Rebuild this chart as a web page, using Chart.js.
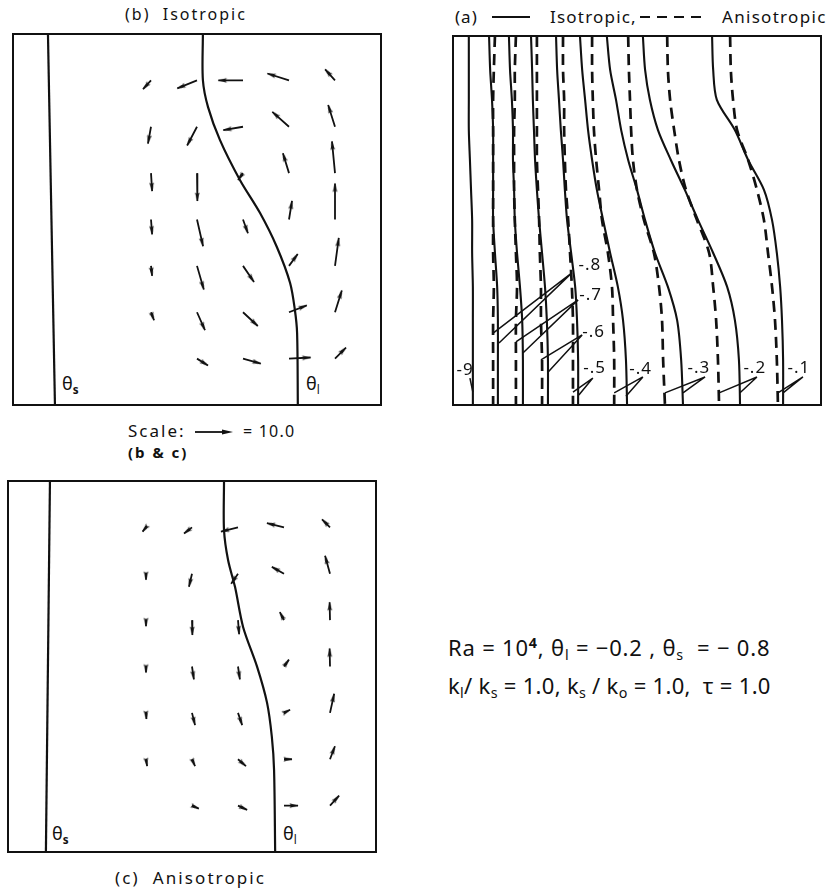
<!DOCTYPE html>
<html>
<head>
<meta charset="utf-8">
<script src="https://cdn.jsdelivr.net/npm/chart.js@4.4.1/dist/chart.umd.min.js"></script>
<style>
  body { margin: 0; background: #fff; width: 829px; height: 890px; position: relative; overflow: hidden;
         font-family: "Noto Sans", sans-serif; color: #111; }
  canvas { position: absolute; }
  .t { position: absolute; white-space: nowrap; line-height: 1; }
  sub { font-size: 0.65em; vertical-align: -0.3em; }
  sup { font-size: 0.65em; vertical-align: 0.55em; font-weight: 700; }
</style>
</head>
<body>
<div class="t" style="left:125px;top:6px;font-size:16px;letter-spacing:2px">(b)&nbsp; Isotropic</div>

<div class="t" style="left:455px;top:8px;font-size:17px;letter-spacing:1px">(a)</div>
<svg style="position:absolute;left:492px;top:10px" width="40" height="14"><line x1="0" y1="7" x2="38" y2="7" stroke="#111" stroke-width="1.8"/></svg>
<div class="t" style="left:550px;top:8px;font-size:17px;letter-spacing:1.2px">Isotropic,</div>
<svg style="position:absolute;left:640px;top:10px" width="70" height="14"><line x1="0" y1="7" x2="68" y2="7" stroke="#111" stroke-width="1.8" stroke-dasharray="10,7"/></svg>
<div class="t" style="left:722px;top:8px;font-size:17px;letter-spacing:1.3px">Anisotropic</div>

<div class="t" style="left:128px;top:422px;font-size:17px;letter-spacing:2px">Scale:</div>
<svg style="position:absolute;left:195px;top:425px" width="42" height="14"><line x1="0" y1="7" x2="32" y2="7" stroke="#111" stroke-width="1.8"/><polygon points="38,7 27,4.5 27,9.5" fill="#111"/></svg>
<div class="t" style="left:243px;top:423px;font-size:16px;letter-spacing:1.2px">= 10.0</div>
<div class="t" style="left:128px;top:445px;font-size:15px;font-weight:700;letter-spacing:2px;word-spacing:0px">(b &amp; c)</div>

<div class="t" style="left:115px;top:869px;font-size:17px;letter-spacing:2.1px">(c)&nbsp; Anisotropic</div>

<div class="t" style="left:448px;top:636px;font-size:22px;letter-spacing:0.8px">Ra = 10<sup>4</sup>, θ<sub>l</sub> = −0.2 , θ<sub>s</sub> &nbsp;= − 0.8</div>
<div class="t" style="left:448px;top:674px;font-size:22px;letter-spacing:0.3px">k<sub>l</sub>/ k<sub>s</sub> = 1.0, k<sub>s</sub> / k<sub>o</sub> = 1.0, &nbsp;τ = 1.0</div>

<div class="t" style="left:62px;top:374px;font-size:18px">θ<sub style="font-weight:700">s</sub></div>
<div class="t" style="left:306px;top:374px;font-size:18px">θ<sub>l</sub></div>
<div class="t" style="left:52px;top:824px;font-size:18px">θ<sub style="font-weight:700">s</sub></div>
<div class="t" style="left:283px;top:824px;font-size:18px">θ<sub>l</sub></div>

<canvas id="chartB" width="370" height="373" style="left:12px;top:33px"></canvas>
<canvas id="chartA" width="370" height="371" style="left:452px;top:35px"></canvas>
<canvas id="chartC" width="370" height="373" style="left:7px;top:480px"></canvas>

<script>
// ---- velocity grid (fractions of the box); arrows start at these points ----
const GRID_X = [0.375, 0.5, 0.625, 0.75, 0.875];
const GRID_Y = [0.875, 0.75, 0.625, 0.5, 0.375, 0.25, 0.125];

// (b) isotropic velocity components, rows top -> bottom, null = no arrow
const ISO_U = [
  [-2.1, -5.2, -6.5, -5.7, -2.6],
  [-0.8, -2.6, -5.2, -4.4, -1.8],
  [0.3, 0.1, -1.3, -1.6, -0.8],
  [0.3, 1.6, 1.3, 0.8, 0.0],
  [0.3, 1.8, 2.9, 2.3, 1.0],
  [0.8, 2.1, 3.9, 4.7, 1.8],
  [null, 2.9, 4.7, 5.7, 2.9]
];
const ISO_V = [
  [-2.3, -2.1, 0.0, 1.8, 2.9],
  [-4.4, -4.9, -0.9, 3.9, 5.7],
  [-4.7, -7.3, -1.8, 5.2, 8.3],
  [-3.9, -7.0, -3.6, 4.9, 9.4],
  [-2.6, -6.2, -4.2, 3.1, 7.3],
  [-2.1, -4.7, -3.6, 1.8, 5.7],
  [null, -1.8, -1.3, 0.3, 2.9]
];

// (c) anisotropic velocity components
const ANI_U = [
  [-0.9, -2.1, -4.5, -4.5, -2.1],
  [0.0, -0.8, -1.8, -3.2, -1.3],
  [0.0, 0.1, 0.3, -1.1, -0.1],
  [0.0, 0.5, 0.5, 1.3, -0.1],
  [0.1, 0.8, 1.1, 1.6, 1.1],
  [0.3, 0.8, 2.1, 2.1, 1.3],
  [null, 1.8, 2.4, 3.7, 2.4]
];
const ANI_V = [
  [-1.1, -1.6, -1.1, 1.1, 2.1],
  [-1.6, -3.4, -2.6, 1.8, 4.7],
  [-1.6, -3.9, -3.7, 2.1, 4.7],
  [-1.6, -3.4, -3.4, 1.8, 4.7],
  [-1.6, -3.2, -3.2, 0.8, 5.0],
  [-1.8, -1.8, -1.8, 0.0, 3.4],
  [null, -0.8, -1.1, 0.0, 2.6]
];

// interfaces: theta_l (melt front) and theta_s
const ISO_THL_X = [0.516, 0.516, 0.530, 0.5625, 0.617, 0.671, 0.717, 0.753, 0.766, 0.772, 0.774];
const ISO_THL_Y = [1.0, 0.876, 0.803, 0.714, 0.606, 0.518, 0.426, 0.329, 0.256, 0.194, 0.0];
const ANI_THL_X = [0.587, 0.587, 0.598, 0.617, 0.639, 0.677, 0.704, 0.717, 0.723, 0.726];
const ANI_THL_Y = [1.0, 0.868, 0.787, 0.714, 0.606, 0.499, 0.402, 0.310, 0.221, 0.0];
const ISO_THS_X = [0.095, 0.114];
const ANI_THS_X = [0.114, 0.103];
const THS_Y = [1.0, 0.0];

// (a) isotherms, x position at each height
const THETA_LEVELS = [-0.9, -0.8, -0.7, -0.6, -0.5, -0.4, -0.3, -0.2, -0.1];
const THETA_Y = [1.0, 0.908, 0.827, 0.745, 0.664, 0.583, 0.501, 0.412, 0.320, 0.230, 0.122, 0.0];
const THETA_ISO_X = [
  [.043, .043, .043, .043, .046, .049, .052, .052, .054, .054, .054, .054],
  [.098, .101, .106, .109, .109, .109, .109, .114, .120, .122, .122, .122],
  [.152, .155, .160, .163, .163, .166, .168, .174, .182, .188, .190, .190],
  [.212, .215, .217, .220, .223, .228, .234, .242, .250, .255, .258, .258],
  [.280, .283, .288, .293, .299, .304, .310, .321, .332, .337, .340, .340],
  [.345, .351, .359, .367, .378, .391, .408, .427, .448, .462, .470, .473],
  [.418, .427, .443, .457, .476, .500, .522, .549, .584, .609, .620, .625],
  [.516, .522, .535, .557, .592, .630, .666, .707, .745, .766, .777, .780],
  [.704, .707, .717, .766, .802, .845, .867, .880, .889, .894, .897, .897]
];
const THETA_ANI_X = [
  null,
  [.114, .111, .109, .109, .109, .109, .109, .109, .111, .109, .109, .109],
  [.171, .168, .168, .166, .166, .166, .168, .171, .174, .171, .171, .171],
  [.228, .228, .228, .228, .228, .231, .234, .236, .239, .239, .242, .242],
  [.299, .299, .302, .302, .304, .307, .313, .318, .323, .326, .326, .326],
  [.378, .378, .380, .383, .389, .397, .405, .421, .432, .435, .438, .438],
  [.476, .478, .481, .484, .489, .500, .519, .546, .560, .568, .571, .576],
  [.582, .584, .590, .601, .614, .633, .663, .696, .707, .715, .720, .723],
  [.753, .755, .761, .772, .802, .826, .845, .856, .867, .875, .880, .883]
];

// isotherm labels and their leader lines
const LABEL_TEXT = ['-9', '-.8', '-.7', '-.6', '-.5', '-.4', '-.3', '-.2', '-.1'];
const LABEL_X = [0.033, 0.372, 0.374, 0.382, 0.385, 0.510, 0.668, 0.820, 0.940];
const LABEL_Y = [0.095, 0.379, 0.298, 0.198, 0.100, 0.098, 0.100, 0.100, 0.100];
const LEADER_FROM = [[.046, .073], [.323, .358], [.340, .285], [.351, .190], [.380, .073],
                     [.516, .076], [.685, .076], [.826, .076], [.951, .076]];
const LEADER_TO = [
  [[.054, .035]],
  [[.109, .195], [.125, .168]],
  [[.171, .171], [.190, .141]],
  [[.239, .122], [.258, .089]],
  [[.326, .035], [.342, .027]],
  [[.438, .033], [.470, .024]],
  [[.576, .033], [.625, .033]],
  [[.723, .033], [.780, .033]],
  [[.883, .033], [.897, .033]]
];

const ARROW_K = 0.0103;   // box fraction per velocity unit (10.0 -> ~38 px)
const INK = '#111';

// arrow head drawn as a narrow dart, tip at the image centre
const headImg = document.createElement('canvas');
headImg.width = 20; headImg.height = 7;
(function () {
  const g = headImg.getContext('2d');
  g.fillStyle = INK;
  g.beginPath();
  g.moveTo(10.5, 3.5); g.lineTo(1.5, 1.2); g.lineTo(3, 3.5); g.lineTo(1.5, 5.8);
  g.closePath(); g.fill();
})();

function arrowPoints(U, V) {
  const pts = [];
  GRID_Y.forEach((gy, r) => {
    GRID_X.forEach((gx, c) => {
      const u = U[r][c], v = V[r][c];
      if (u === null) return;
      pts.push({x: gx, y: gy});
      pts.push({x: gx + u * ARROW_K, y: gy + v * ARROW_K, head: true,
                rot: Math.atan2(-v, u) * 180 / Math.PI});
      pts.push({x: null, y: null});
    });
  });
  return pts;
}

function zipXY(xs, ys) {
  return xs.map((x, i) => ({x: x, y: ys[i]}));
}

const boxPlugin = {
  id: 'box',
  afterDraw(chart) {
    const a = chart.chartArea, ctx = chart.ctx;
    ctx.save();
    ctx.strokeStyle = INK;
    ctx.lineWidth = 2;
    ctx.strokeRect(a.left, a.top, a.right - a.left, a.bottom - a.top);
    ctx.restore();
  }
};

function baseOptions() {
  return {
    responsive: false,
    animation: false,
    events: [],
    layout: {padding: 1},
    plugins: {legend: {display: false}, tooltip: {enabled: false}},
    scales: {
      x: {type: 'linear', min: 0, max: 1, display: false},
      y: {type: 'linear', min: 0, max: 1, display: false}
    }
  };
}

function lineSet(points, width, dash, tension) {
  return {
    data: points,
    showLine: true,
    borderColor: INK,
    borderWidth: width,
    borderDash: dash || [],
    pointRadius: 0,
    tension: tension || 0,
    fill: false
  };
}

function arrowSet(U, V) {
  return {
    data: arrowPoints(U, V),
    showLine: true,
    spanGaps: false,
    borderColor: INK,
    borderWidth: 1.8,
    pointRadius: c => (c.raw && c.raw.head ? 3 : 0),
    pointStyle: c => (c.raw && c.raw.head ? headImg : 'circle'),
    rotation: c => (c.raw && c.raw.rot) || 0
  };
}

function flowChart(id, thsX, thlX, thlY, U, V) {
  new Chart(document.getElementById(id), {
    type: 'scatter',
    data: {
      datasets: [
        lineSet(zipXY(thsX, THS_Y), 2.2),
        lineSet(zipXY(thlX, thlY), 2.2, null, 0.3),
        arrowSet(U, V)
      ]
    },
    options: baseOptions(),
    plugins: [boxPlugin]
  });
}

flowChart('chartB', ISO_THS_X, ISO_THL_X, ISO_THL_Y, ISO_U, ISO_V);
flowChart('chartC', ANI_THS_X, ANI_THL_X, ANI_THL_Y, ANI_U, ANI_V);

// (a) isotherms
const isoSets = [];
THETA_LEVELS.forEach((lv, i) => {
  isoSets.push(lineSet(zipXY(THETA_ISO_X[i], THETA_Y), 2.1, null, 0.3));
  if (THETA_ANI_X[i]) isoSets.push(lineSet(zipXY(THETA_ANI_X[i], THETA_Y), 2.7, [11, 7], 0.3));
});
const leaderPts = [];
LEADER_FROM.forEach((p, i) => {
  LEADER_TO[i].forEach(q => {
    leaderPts.push({x: p[0], y: p[1]}, {x: q[0], y: q[1]}, {x: null, y: null});
  });
});
isoSets.push(Object.assign(lineSet(leaderPts, 1.5), {spanGaps: false}));

const labelPlugin = {
  id: 'isoLabels',
  afterDatasetsDraw(chart) {
    const ctx = chart.ctx, sx = chart.scales.x, sy = chart.scales.y;
    ctx.save();
    ctx.fillStyle = INK;
    ctx.font = '17px "Noto Sans", sans-serif';
    ctx.letterSpacing = '1px';
    ctx.textAlign = 'center';
    ctx.textBaseline = 'middle';
    LABEL_TEXT.forEach((t, i) => {
      ctx.fillText(t, sx.getPixelForValue(LABEL_X[i]), sy.getPixelForValue(LABEL_Y[i]));
    });
    ctx.restore();
  }
};

new Chart(document.getElementById('chartA'), {
  type: 'scatter',
  data: {datasets: isoSets},
  options: baseOptions(),
  plugins: [boxPlugin, labelPlugin]
});
</script>
</body>
</html>
